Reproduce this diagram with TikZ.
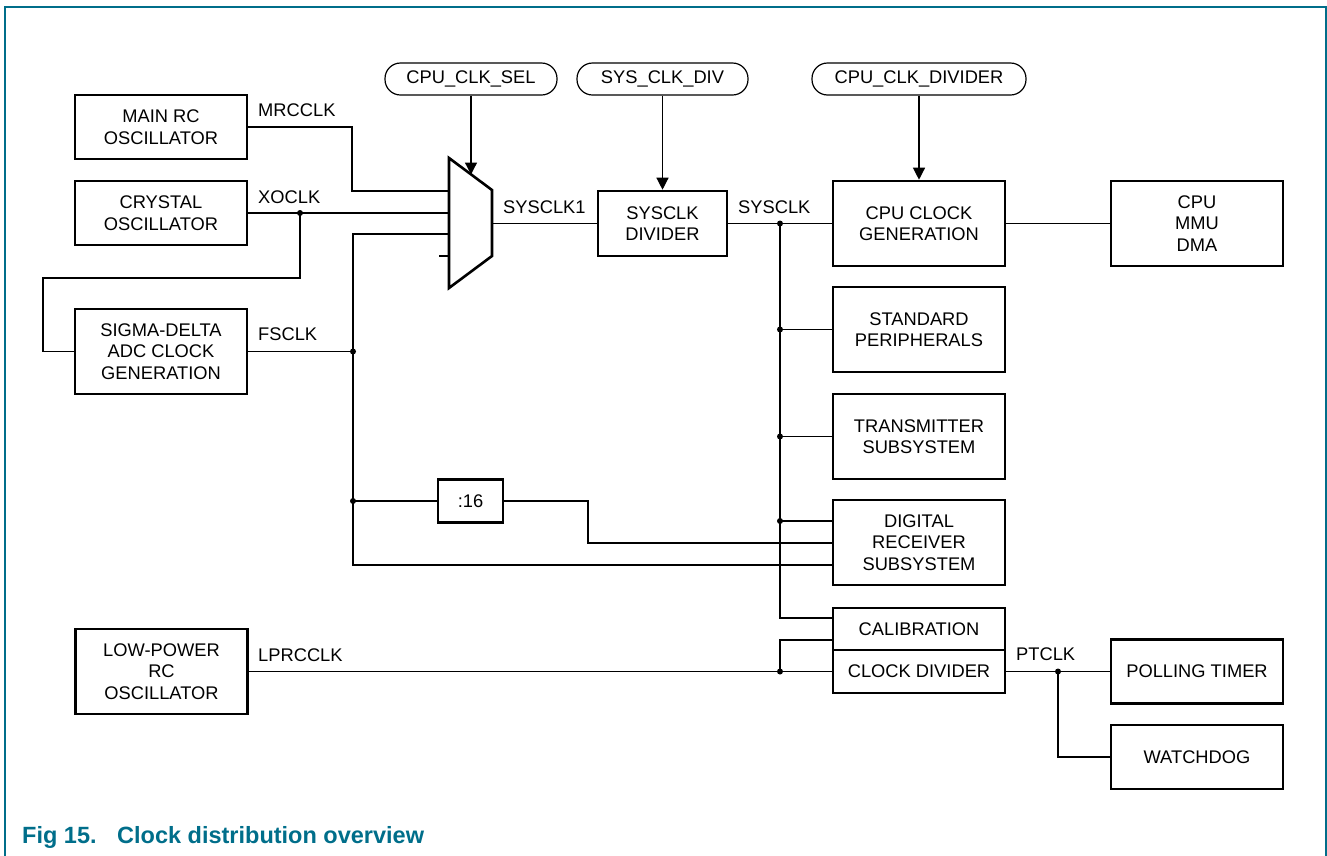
\documentclass[tikz,border=0pt]{standalone}
\usepackage{fontspec}
\setmainfont{Liberation Sans}
\usetikzlibrary{arrows.meta}
\definecolor{nxpteal}{RGB}{0,110,138}
\begin{document}
\begin{tikzpicture}[x=1pt,y=-1pt,
  blk/.style={draw,line width=2.6pt,align=center,inner sep=0pt,
    font=\fontsize{18.3}{21.5}\selectfont,minimum width=172pt},
  pill/.style={draw,line width=1.2pt,rounded corners=15.5pt,inner sep=0pt,
    font=\fontsize{18.3}{21.5}\selectfont,minimum height=32pt},
  wire/.style={line width=1.3pt},
  arr/.style={line width=1.3pt,-{Triangle[length=12pt,width=12pt]}},
  lbl/.style={anchor=west,inner sep=0pt,font=\fontsize{18.3}{21.5}\selectfont},
  dot/.style={circle,fill,inner sep=0pt,minimum size=6pt}]
\useasboundingbox (0,0) rectangle (1327,855);
% frame
\draw[nxpteal,line width=2pt] (4.5,856) -- (4.5,6.5) -- (1325.5,6.5) -- (1325.5,856);
\node[anchor=base west,inner sep=0pt,text=nxpteal,font=\fontsize{23.5}{26}\selectfont\bfseries] (figno) at (22,843) {Fig 15.};
\node[anchor=base west,inner sep=0pt,text=nxpteal,font=\fontsize{23.5}{26}\selectfont\bfseries] (figtitle) at (117,843) {Clock distribution overview};
% blocks
\node[blk,minimum height=64pt] (mrc) at (161,127) {MAIN RC\\OSCILLATOR};
\node[blk,minimum height=64pt] (xo) at (161,213) {CRYSTAL\\OSCILLATOR};
\node[blk,minimum height=85pt] (sd) at (161,351.5) {SIGMA-DELTA\\ADC CLOCK\\GENERATION};
\node[blk,minimum height=85pt] (lp) at (161.5,671.5) {LOW-POWER\\RC\\OSCILLATOR};
\node[blk,minimum width=129pt,minimum height=65pt] (sysdiv) at (662.5,223.5) {SYSCLK\\DIVIDER};
\node[blk,minimum height=85pt] (cpugen) at (919,223.5) {CPU CLOCK\\GENERATION};
\node[blk,minimum height=85pt] (cpu) at (1197,223.5) {CPU\\MMU\\DMA};
\node[blk,minimum height=85pt] (std) at (919,329.5) {STANDARD\\PERIPHERALS};
\node[blk,minimum height=85pt] (tx) at (919,436.5) {TRANSMITTER\\SUBSYSTEM};
\node[blk,minimum height=85pt] (rx) at (919,542.5) {DIGITAL\\RECEIVER\\SUBSYSTEM};
\node[blk,minimum height=42pt] (cal) at (919,629) {CALIBRATION};
\node[blk,minimum height=43pt] (cdiv) at (919,671.5) {CLOCK DIVIDER};
\node[blk,minimum height=64pt] (poll) at (1197,671.5) {POLLING TIMER};
\node[blk,minimum height=64pt] (wd) at (1197,757) {WATCHDOG};
\node[blk,minimum width=65pt,minimum height=43pt] (d16) at (470.5,501) {:16};
% pills
\node[pill,minimum width=172pt] (sel) at (471,79) {CPU\_CLK\_SEL};
\node[pill,minimum width=171pt] (sdp) at (662.5,79) {SYS\_CLK\_DIV};
\node[pill,minimum width=214pt] (cdp) at (919,79) {CPU\_CLK\_DIVIDER};
% mux
\coordinate (mtl) at (449,158);
\coordinate (mtr) at (492,190);
\coordinate (mbr) at (492,256);
\coordinate (mbl) at (449,288);
\draw[line width=2.6pt,line join=miter] (mtl) -- (mtr) -- (mbr) -- (mbl) -- cycle;
\coordinate (msel) at (471,174.5);
\coordinate (mout) at (492,223.5);
% labels
\node[lbl] (lmrc) at (258,110) {MRCCLK};
\node[lbl] (lxo) at (258,197) {XOCLK};
\node[lbl] (lfs) at (258,334) {FSCLK};
\node[lbl] (llp) at (258,655) {LPRCCLK};
\node[lbl] (ls1) at (503,207) {SYSCLK1};
\node[lbl] (lsys) at (738,207) {SYSCLK};
\node[lbl] (lpt) at (1016,654) {PTCLK};
% junctions
\coordinate (jxo) at (300,213);
\coordinate (jfs) at (353,351.5);
\coordinate (jd16) at (353,501);
\coordinate (js0) at (780,223.5);
\coordinate (js1) at (780,329.5);
\coordinate (js2) at (780,436.5);
\coordinate (js3) at (780,521);
\coordinate (jlp) at (780,671.5);
\coordinate (jpt) at (1058,671.5);
% control arrows
\draw[arr] (sel.south) -- (msel);
\draw[arr] (sdp.south) -- (sysdiv.north);
\draw[arr] (cdp.south) -- (cpugen.north);
% wires
\draw[wire] (mrc.east) -- (352,127) |- (449,191);
\draw[wire] (xo.east) -- (449,213);
\draw[wire] (jxo) |- (43,278) |- (sd.west);
\draw[wire] (sd.east) -- (jfs);
\draw[wire] (449,234) -| (353,565) -- (rx.west |- 0,565);
\draw[wire] (jd16) -- (d16.west);
\draw[wire] (d16.east) -| (588,543) -- (rx.west |- 0,543);
\draw[wire] (439,256) -- (449,256);
\draw[wire] (mout) -- (sysdiv.west);
\draw[wire] (sysdiv.east) -- (cpugen.west);
\draw[wire] (js0) |- (cal.west |- 0,618);
\draw[wire] (js1) -- (std.west);
\draw[wire] (js2) -- (tx.west);
\draw[wire] (js3) -- (rx.west |- js3);
\draw[wire] (lp.east |- jlp) -- (cdiv.west);
\draw[wire] (jlp) |- (cal.west |- 0,640);
\draw[wire] (cpugen.east) -- (cpu.west);
\draw[wire] (cdiv.east) -- (poll.west |- jpt);
\draw[wire] (jpt) |- (wd.west);
\foreach \j in {jxo,jfs,jd16,js0,js1,js2,js3,jlp,jpt} \node[dot] at (\j) {};
\end{tikzpicture}
\end{document}
